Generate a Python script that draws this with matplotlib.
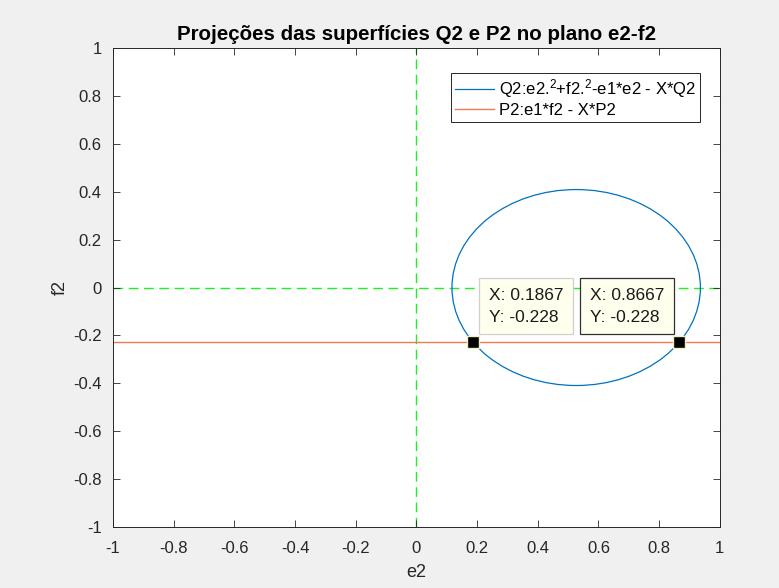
import matplotlib
matplotlib.use('Agg')
import matplotlib.pyplot as plt
from matplotlib.patches import Circle

plt.rcParams['font.family'] = ['Liberation Sans', 'DejaVu Sans']
plt.rcParams['mathtext.fontset'] = 'custom'
plt.rcParams['mathtext.rm'] = 'Liberation Sans'
plt.rcParams['mathtext.it'] = 'Liberation Sans'

# data
CIRCLE_CENTER = (0.5267, 0.0)
CIRCLE_RADIUS = 0.4094
P2_LEVEL = -0.228
TIP_X = [0.1867, 0.8667]
TIP_Y = [-0.228, -0.228]
TICKS = [-1, -0.8, -0.6, -0.4, -0.2, 0, 0.2, 0.4, 0.6, 0.8, 1]
TICK_LABELS = ['-1', '-0.8', '-0.6', '-0.4', '-0.2', '0', '0.2', '0.4', '0.6', '0.8', '1']

BLUE = '#0072BD'
ORANGE = '#EE7B55'
GREEN = '#22EE22'
DARK = '#262626'

fig = plt.figure(figsize=(7.79, 5.88), dpi=100, facecolor='#F0F0F0')
ax = fig.add_axes([0.145, 0.104, 0.779, 0.814])
ax.set_facecolor('white')

# axes cross
ax.axvline(0, color=GREEN, ls=(0, (7, 4)), lw=1.0, zorder=1)
ax.axhline(0, color=GREEN, ls=(0, (7, 4)), lw=1.0, zorder=1)

circ = Circle(CIRCLE_CENTER, CIRCLE_RADIUS, fill=False, edgecolor=BLUE, lw=0.9, zorder=2)
ax.add_patch(circ)
q2_handle, = ax.plot([], [], color=BLUE, lw=0.9)
p2_handle = ax.axhline(P2_LEVEL, color=ORANGE, lw=1.0, zorder=2)

ax.legend([q2_handle, p2_handle],
          ['Q2:e2.$^2$+f2.$^2$-e1*e2 - X*Q2', 'P2:e1*f2 - X*P2'],
          loc='upper right', bbox_to_anchor=(0.967, 0.948),
          fontsize=12, fancybox=False, framealpha=1, edgecolor=DARK,
          handlelength=2.3, handletextpad=0.3, borderpad=0.25,
          labelspacing=0.18, borderaxespad=0)
ax.get_legend().get_frame().set_linewidth(0.7)

# data tips
ax.plot(TIP_X, TIP_Y, 's', color='black', markersize=8,
        markeredgecolor='#EFEFC8', markeredgewidth=1.0, zorder=5)
offsets = [(11.5, 12.5), (-11, 12.5)]
aligns = ['left', 'right']
edges = ['#D0D0D0', '#303030']
for x, y, off, ha, ec in zip(TIP_X, TIP_Y, offsets, aligns, edges):
    ax.annotate(f'X: {x:.4g}\nY: {y:.4g}', xy=(x, y), xytext=off,
                textcoords='offset points', ha=ha, va='bottom',
                multialignment='left', fontsize=12.5, color='#1A1A1A',
                linespacing=1.6, zorder=6,
                bbox=dict(boxstyle='square,pad=0.55', fc='#FFFFEE', ec=ec, lw=0.9))

ax.set_xlim(-1, 1)
ax.set_ylim(-1, 1)
ax.set_xticks(TICKS)
ax.set_xticklabels(TICK_LABELS)
ax.set_yticks(TICKS)
ax.set_yticklabels(TICK_LABELS)
ax.tick_params(direction='in', length=5, width=0.6, colors=DARK,
               labelsize=12, top=True, right=True)
ax.tick_params(axis='x', pad=10)
ax.tick_params(axis='y', pad=8)
for s in ax.spines.values():
    s.set_color(DARK)
    s.set_linewidth(0.7)

ax.set_xlabel('e2', fontsize=13, color=DARK, labelpad=6)
ax.set_ylabel('f2', fontsize=13, color=DARK, labelpad=3)
ax.set_title('Projeções das superfícies Q2 e P2 no plano e2-f2',
             fontsize=14.8, fontweight='bold', color='black', pad=6)

fig.savefig('out.png', dpi=100, facecolor=fig.get_facecolor())
